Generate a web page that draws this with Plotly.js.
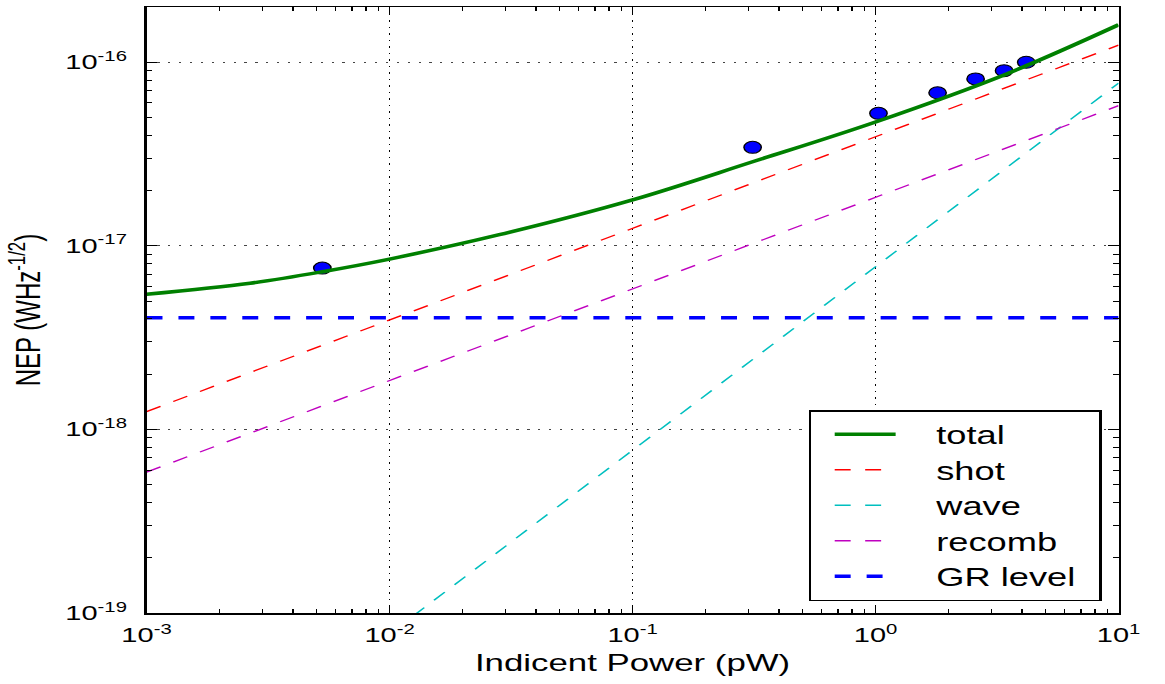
<!DOCTYPE html>
<html>
<head>
<meta charset="utf-8">
<script src="https://cdn.plot.ly/plotly-3.0.1.min.js"></script>
<style>
  html, body { margin: 0; padding: 0; background: #fff; overflow: hidden; }
  #wrap { width: 1165px; height: 684px; overflow: hidden; }
  #plot { width: 803px; height: 684px; transform: scaleX(1.4508); transform-origin: 0 0; }
</style>
</head>
<body>
<div id="wrap"><div id="plot"></div></div>
<script>
// ---- data ----
const xTickVals = [0.001, 0.01, 0.1, 1, 10];
const xTickText = ["10<sup>-3</sup>", "10<sup>-2</sup>", "10<sup>-1</sup>", "10<sup>0</sup>", "10<sup>1</sup>"];
const yTickVals = [1e-19, 1e-18, 1e-17, 1e-16];
const yTickText = ["10<sup>-19</sup>", "10<sup>-18</sup>", "10<sup>-17</sup>", "10<sup>-16</sup>"];

const totalP   = [0.001, 0.00267, 0.00529, 0.01, 0.0283, 0.1, 0.312, 1.0, 3.38, 10];
const totalNEP = [5.45e-18, 6.26e-18, 7.23e-18, 8.47e-18, 1.15e-17, 1.78e-17, 2.87e-17, 4.73e-17, 8.53e-17, 1.60e-16];

const shotP   = [0.001, 10];
const shotNEP = [1.25e-18, 1.24e-16];

const waveP   = [0.001, 10];
const waveNEP = [7.7e-21, 7.7e-17];

const recombP   = [0.001, 10];
const recombNEP = [5.85e-19, 5.8e-17];

const grP   = [0.001, 10];
const grNEP = [4.06e-18, 4.06e-18];

const measP   = [0.00529, 0.312, 1.028, 1.80, 2.58, 3.38, 4.17];
const measNEP = [7.57e-18, 3.44e-17, 5.27e-17, 6.82e-17, 8.11e-17, 9.0e-17, 1.0e-16];

const seriesNames = ["total", "shot", "wave", "recomb", "GR level"];

// minor tick positions (2..9 within each decade)
const minorDigits = [2, 3, 4, 5, 6, 7, 8, 9];
const xDecades = [0.001, 0.01, 0.1, 1];
const yDecades = [1e-19, 1e-18, 1e-17, 1e-16];
const xMinor = [];
xDecades.forEach(d => minorDigits.forEach(m => xMinor.push(m * d)));
const yMinor = [];
yDecades.forEach(d => minorDigits.forEach(m => { if (m * d <= 1.99e-16) yMinor.push(m * d); }));

// ---- traces ----
// measured points on the main axes (underneath), curves on the overlay axes (on top)
const traces = [
  { x: measP, y: measNEP, name: "data", mode: "markers", showlegend: false,
    marker: { color: "#0000ff", size: 12, line: { color: "#000", width: 1 } } },
  { x: totalP, y: totalNEP, name: seriesNames[0], mode: "lines", xaxis: "x2", yaxis: "y2",
    line: { color: "#008000", width: 3.5, shape: "spline", smoothing: 1 } },
  { x: shotP, y: shotNEP, name: seriesNames[1], mode: "lines", xaxis: "x2", yaxis: "y2",
    line: { color: "#ff0000", width: 1.3, dash: "11px,10px" } },
  { x: waveP, y: waveNEP, name: seriesNames[2], mode: "lines", xaxis: "x2", yaxis: "y2",
    line: { color: "#00bfbf", width: 1.3, dash: "11px,10px" } },
  { x: recombP, y: recombNEP, name: seriesNames[3], mode: "lines", xaxis: "x2", yaxis: "y2",
    line: { color: "#bf00bf", width: 1.3, dash: "11px,10px" } },
  { x: grP, y: grNEP, name: seriesNames[4], mode: "lines", xaxis: "x2", yaxis: "y2",
    line: { color: "#0000ff", width: 3.5, dash: "11px,11px" } }
];

const fontFam = "Liberation Sans, Arial, Helvetica, sans-serif";

const layout = {
  width: 803, height: 684,
  margin: { l: 100.6, r: 31.7, t: 7, b: 71 },
  paper_bgcolor: "#fff", plot_bgcolor: "#fff",
  font: { family: fontFam, color: "#000" },
  showlegend: true,
  xaxis: {
    type: "log", range: [-3, 1],
    tickmode: "array", tickvals: xTickVals, ticktext: xTickText,
    tickfont: { size: 20, family: fontFam },
    ticks: "inside", ticklen: 8, tickwidth: 1, tickcolor: "#000",
    showline: true, linecolor: "#000", linewidth: 1.5, mirror: "allticks",
    showgrid: true, gridcolor: "#000", gridwidth: 1, griddash: "1.5px,5px",
    zeroline: false, ticklabelstandoff: 4,
    title: { text: "Indicent Power (pW)", font: { size: 24, family: fontFam }, standoff: 8 }
  },
  yaxis: {
    type: "log", range: [-19, -15.699],
    tickmode: "array", tickvals: yTickVals, ticktext: yTickText,
    tickfont: { size: 20, family: fontFam },
    ticks: "inside", ticklen: 7, tickwidth: 1, tickcolor: "#000",
    showline: true, linecolor: "#000", linewidth: 1.5, mirror: "allticks",
    showgrid: true, gridcolor: "#444", gridwidth: 1, griddash: "1.5px,6px",
    zeroline: false, ticklabelstandoff: 8,
    title: { text: "NEP (WHz<sup>-1/2</sup>)", font: { size: 24, family: fontFam }, standoff: 10 }
  },
  // overlay axes with the same scales; they carry the minor ticks
  xaxis2: {
    type: "log", range: [-3, 1], overlaying: "x", anchor: "y2", side: "bottom",
    tickmode: "array", tickvals: xMinor, ticks: "inside", ticklen: 4, tickwidth: 1, tickcolor: "#000",
    showticklabels: false, showgrid: false, zeroline: false,
    showline: true, linecolor: "#000", linewidth: 1.5, mirror: "ticks"
  },
  yaxis2: {
    type: "log", range: [-19, -15.699], overlaying: "y", anchor: "x2", side: "left",
    tickmode: "array", tickvals: yMinor, ticks: "inside", ticklen: 3.5, tickwidth: 1, tickcolor: "#000",
    showticklabels: false, showgrid: false, zeroline: false,
    showline: true, linecolor: "#000", linewidth: 1.5, mirror: "ticks"
  },
  legend: {
    x: 0.9826, y: 0.0198, xanchor: "right", yanchor: "bottom",
    bgcolor: "#fff", bordercolor: "#000", borderwidth: 1.5,
    font: { size: 25, family: fontFam },
    itemwidth: 76, traceorder: "normal"
  }
};

Plotly.newPlot("plot", traces, layout, { displayModeBar: false, staticPlot: true }).then(gd => {
  // shorter legend line samples, placed like the reference
  gd.querySelectorAll(".legend .legendlines path").forEach(p => p.setAttribute("d", "M16,0h42"));
  // widen the legend box to the reference width, keeping its right edge
  const leg = gd.querySelector(".legend");
  const bg = leg && leg.querySelector(".bg");
  if (leg && bg) {
    const targetW = 200;
    const w = parseFloat(bg.getAttribute("width"));
    const delta = targetW - w;
    if (delta > 0) {
      bg.setAttribute("width", targetW);
      const m = /translate\(\s*([-\d.]+)[ ,]+([-\d.]+)\s*\)/.exec(leg.getAttribute("transform") || "");
      if (m) leg.setAttribute("transform", "translate(" + (parseFloat(m[1]) - delta) + "," + m[2] + ")");
    }
  }
});
</script>
</body>
</html>
